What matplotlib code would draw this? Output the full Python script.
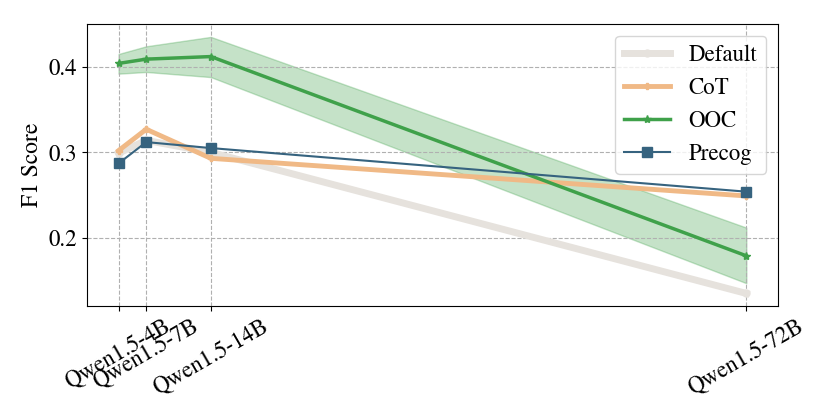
import matplotlib.pyplot as plt

plt.rcParams['font.family'] = ['STIXGeneral', 'DejaVu Serif']
plt.rcParams['mathtext.fontset'] = 'stix'

sizes = [4, 7, 14, 72]
labels = ["Qwen1.5-4B", "Qwen1.5-7B", "Qwen1.5-14B", "Qwen1.5-72B"]

default = [0.299, 0.314, 0.300, 0.135]
cot = [0.302, 0.327, 0.293, 0.249]
ooc = [0.404, 0.409, 0.412, 0.179]
ooc_lo = [0.392, 0.394, 0.388, 0.147]
ooc_hi = [0.415, 0.424, 0.435, 0.212]
precog = [0.287, 0.312, 0.305, 0.254]

fig, ax = plt.subplots(figsize=(8.3, 4.15), dpi=100)

ax.plot(sizes, default, color="#e6e2dd", lw=5, marker="o", ms=5, label="Default")
ax.plot(sizes, cot, color="#f0b986", lw=3.5, marker="P", ms=5, label="CoT")
ax.fill_between(sizes, ooc_lo, ooc_hi, color="#3fa14a", alpha=0.3)
ax.plot(sizes, ooc, color="#3fa14a", lw=2.5, marker="*", ms=6, label="OOC")
ax.plot(sizes, precog, color="#36637f", lw=1.5, marker="s", ms=7, label="Precog")

ax.set_xticks(sizes)
ax.set_xticklabels(labels, rotation=30, fontsize=16.5)
ax.set_yticks([0.2, 0.3, 0.4])
ax.tick_params(axis="y", labelsize=16.5)
ax.set_ylabel("F1 Score", fontsize=17)
ax.grid(True, linestyle="--", color="#b0b0b0", lw=0.8)
ax.legend(loc="upper right", fontsize=16.5)

plt.subplots_adjust(left=0.105, right=0.937, top=0.942, bottom=0.262)
plt.savefig("out.png")
